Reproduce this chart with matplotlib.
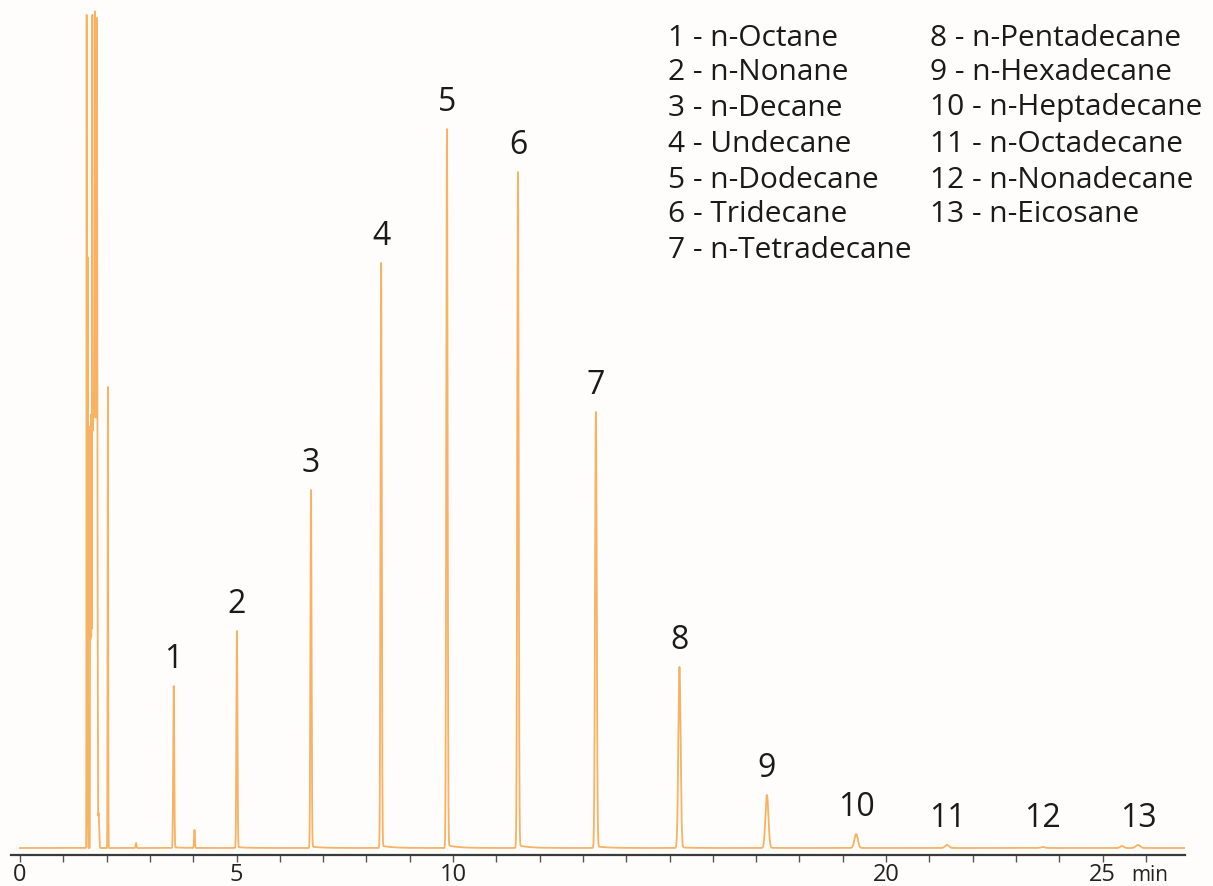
import matplotlib.pyplot as plt
import numpy as np
from matplotlib.transforms import blended_transform_factory

# n-alkane standard: retention time (min), peak height (detector units), peak sigma (min)
peak_ids = ['1', '2', '3', '4', '5', '6', '7', '8', '9', '10', '11', '12', '13']
peak_rt = [3.55, 5.01, 6.72, 8.34, 9.86, 11.50, 13.30, 15.23, 17.25, 19.31, 21.41, 23.62, 25.82]
peak_height = [162, 217, 358, 585, 719, 676, 436, 181, 53, 14, 3, 1, 3]
peak_sigma = [0.012, 0.012, 0.013, 0.014, 0.015, 0.016, 0.019, 0.026, 0.034, 0.040, 0.045, 0.05, 0.05]

# solvent front: sharp peaks sitting on an unresolved cluster
solvent_rt = [1.540, 1.563, 1.670, 1.732, 1.778, 1.815]
solvent_height = [833, 591, 570, 405, 410, 35]
solvent_sigma = [0.004, 0.004, 0.004, 0.004, 0.004, 0.012]

cluster_rt = [1.620, 1.630, 1.640, 1.650, 1.660, 1.670, 1.680, 1.690, 1.700,
              1.710, 1.720, 1.730, 1.740, 1.750, 1.760, 1.770, 1.780, 1.790]
cluster_height = [420, 415, 430, 420, 425, 190, 280, 285, 290, 285, 290, 285,
                  290, 288, 285, 290, 280, 240]
cluster_sigma = [0.003, 0.003, 0.003, 0.003, 0.003, 0.006, 0.006, 0.006, 0.006,
                 0.006, 0.006, 0.006, 0.006, 0.006, 0.006, 0.006, 0.006, 0.006]

# minor impurities
minor_rt = [2.030, 2.680, 4.030, 25.450]
minor_height = [461, 5, 18, 2]
minor_sigma = [0.006, 0.01, 0.01, 0.04]

compound_names = [
    '1 - n-Octane', '2 - n-Nonane', '3 - n-Decane', '4 - Undecane',
    '5 - n-Dodecane', '6 - Tridecane', '7 - n-Tetradecane',
    '8 - n-Pentadecane', '9 - n-Hexadecane', '10 - n-Heptadecane',
    '11 - n-Octadecane', '12 - n-Nonadecane', '13 - n-Eicosane',
]

tick_values = np.arange(0, 27)
tick_text = {0: '0', 5: '5', 10: '10', 20: '20', 25: '25'}

trace_color = '#F7B263'
font = 'Open Sans'

t = np.arange(0, 26.9, 0.001)


def peak(rt, h, s, tail_frac=0.0):
    # gaussian, optionally with a small exponential tail
    g = h * np.exp(-0.5 * ((t - rt) / s) ** 2)
    dt = np.clip(t - rt, 0, None)
    tail = tail_frac * h * np.exp(-dt / 0.25) * (t > rt + 2 * s)
    return g + tail


signal = np.zeros_like(t)
for rt, h, s in zip(peak_rt, peak_height, peak_sigma):
    signal += peak(rt, h, s, 0.004)
for group in [(solvent_rt, solvent_height, solvent_sigma),
              (cluster_rt, cluster_height, cluster_sigma),
              (minor_rt, minor_height, minor_sigma)]:
    for rt, h, s in zip(*group):
        signal += peak(rt, h, s)

fig = plt.figure(figsize=(12.13, 8.86), dpi=100)
fig.patch.set_facecolor('#FEFDFB')
W, H = 1213, 886
px_per_min = 43.3
x0_px = 20
xmin, xmax = -0.2, 26.9
left = (x0_px + xmin * px_per_min) / W
right = (x0_px + xmax * px_per_min) / W
bottom = (H - 855) / H
ax = fig.add_axes([left, bottom, right - left, 1 - bottom])
ax.set_facecolor('none')

ax.plot(t, signal, color=trace_color, lw=1.3)
ax.set_xlim(xmin, xmax)
ax.set_ylim(-7, 848)

for name in ['top', 'left', 'right']:
    ax.spines[name].set_visible(False)
ax.spines['bottom'].set_color('#3a3a3a')
ax.spines['bottom'].set_linewidth(1.6)
ax.set_yticks([])
ax.set_xticks(tick_values)
ax.set_xticklabels([tick_text.get(v, '') for v in tick_values], fontsize=17, family=font,
                   color='#222222')
ax.tick_params(axis='x', direction='out', length=5, width=1, color='#555555', pad=1)

trans = blended_transform_factory(ax.transData, ax.transAxes)
ax.text(26.1, -0.024, 'min', transform=trans, ha='center', va='center', fontsize=15,
        family=font, color='#222222')

# peak numbers
for pid, rt, h in zip(peak_ids, peak_rt, peak_height):
    ax.text(rt, max(h, 3) + 10, pid, ha='center', va='bottom', fontsize=23,
            family=font, color='#1a1a1a')

# compound key in two columns
row_y = [38, 73, 108, 144, 180, 215, 250]
for i, name in enumerate(compound_names):
    col, row = divmod(i, 7)
    x = 668 if col == 0 else 930
    fig.text(x / W, 1 - row_y[row] / H, name, ha='left', va='center', fontsize=21.5,
             family=font, color='#1a1a1a')

fig.savefig('out.png', dpi=100, facecolor=fig.get_facecolor())
